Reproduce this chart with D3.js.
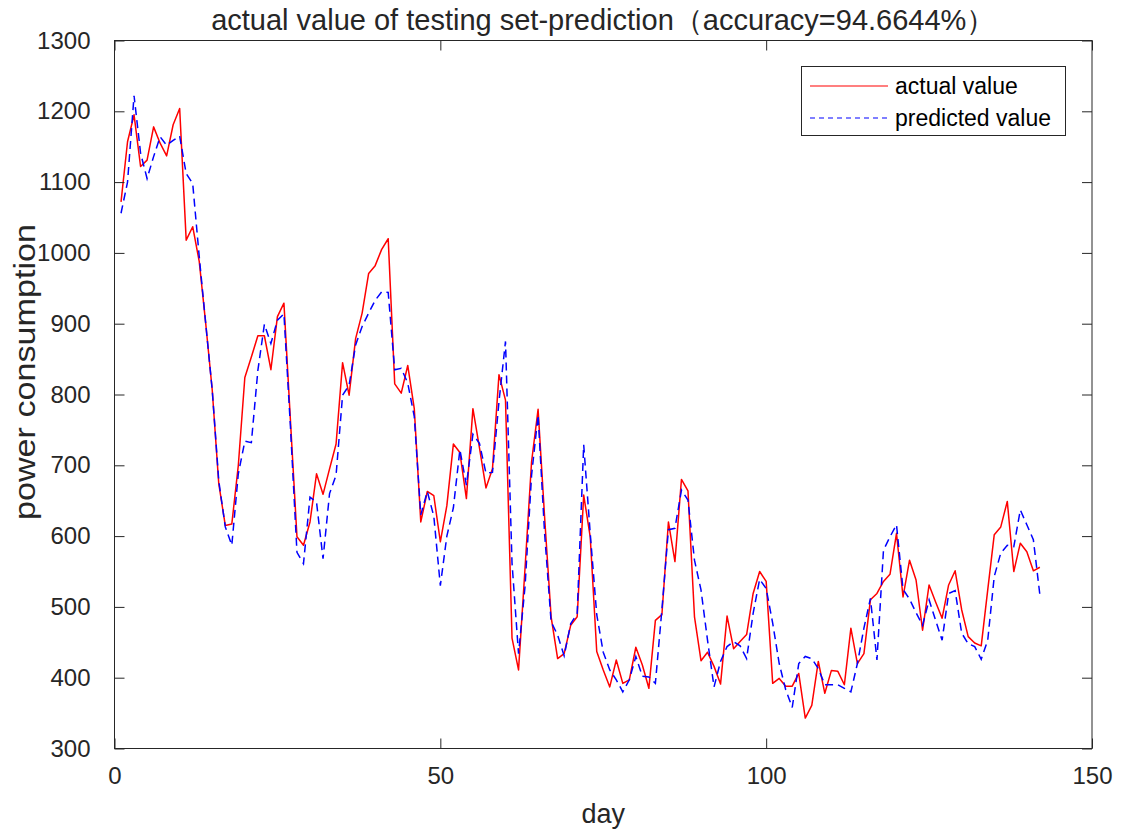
<!DOCTYPE html>
<html>
<head>
<meta charset="utf-8">
<script src="https://cdn.jsdelivr.net/npm/d3@7"></script>
<style>
  html, body { margin: 0; padding: 0; background: #fff; }
  svg { display: block; }
  text { font-family: "Liberation Sans", Arial, Helvetica, sans-serif; fill: #262626; }
</style>
</head>
<body>
<svg id="chart" width="1123" height="834"></svg>
<script>
const titleText = "actual value of testing set-prediction（accuracy=94.6644%）";
const xLabel = "day";
const yLabel = "power consumption";
const xTicks = [0, 50, 100, 150];
const yTicks = [300, 400, 500, 600, 700, 800, 900, 1000, 1100, 1200, 1300];
const seriesNames = ["actual value", "predicted value"];

const actual = [
  1072, 1157, 1195, 1122, 1131, 1178, 1155, 1137, 1181, 1204,
  1018, 1037, 988, 900, 806, 674, 615, 617, 700, 824,
  853, 883, 883, 835, 910, 929, 763, 599, 587, 620,
  688, 659, 695, 730, 845, 799, 879, 915, 971, 982,
  1005, 1020, 815, 802, 841, 780, 620, 663, 657, 592,
  643, 730, 718, 653, 780, 725, 668, 695, 828, 792,
  456, 411, 555, 705, 779, 627, 486, 427, 434, 474,
  486, 658, 599, 437, 411, 387, 425, 392, 397, 443,
  418, 385, 481, 489, 620, 564, 680, 664, 486, 424,
  436, 416, 391, 487, 441, 451, 461, 519, 550, 536,
  392, 399, 388, 388, 406, 343, 361, 423, 378, 410,
  409, 390, 470, 420, 434, 510, 519, 536, 546, 604,
  514, 566, 538, 467, 531, 507, 484, 531, 551, 496,
  458, 449, 445, 524, 602, 613, 649, 550, 590, 578,
  551, 556
];
const predicted = [
  1056, 1100, 1222, 1141, 1105, 1136, 1164, 1152, 1159, 1165,
  1112, 1098, 995, 900, 806, 678, 613, 587, 688, 734,
  732, 834, 899, 872, 905, 914, 754, 577, 561, 655,
  648, 568, 660, 686, 799, 813, 870, 896, 915, 933,
  945, 944, 835, 837, 816, 769, 630, 663, 628, 530,
  600, 640, 722, 672, 744, 731, 689, 690, 790, 875,
  562, 434, 529, 686, 771, 604, 479, 460, 431, 476,
  491, 729, 604, 489, 436, 411, 397, 380, 397, 430,
  402, 401, 392, 496, 609, 611, 665, 651, 566, 524,
  453, 387, 423, 444, 451, 445, 427, 491, 539, 526,
  477, 420, 383, 358, 420, 430, 427, 413, 390, 390,
  390, 385, 380, 420, 470, 512, 425, 580, 599, 616,
  525, 511, 492, 474, 510, 481, 453, 519, 523, 463,
  448, 444, 426, 453, 543, 576, 587, 585, 637, 616,
  595, 517
];

const L = 114.5, R = 1092, T = 40.5, B = 748.5;
const svg = d3.select("#chart");
const x = d3.scaleLinear().domain([0, 150]).range([L, R]);
const y = d3.scaleLinear().domain([300, 1300]).range([B, T]);

const axisColor = "#262626";
const tickLen = 10;

svg.append("rect").attr("x", L).attr("y", T).attr("width", R - L).attr("height", B - T)
  .attr("fill", "#fff");

const clipId = "clipArea";
svg.append("clipPath").attr("id", clipId).append("rect")
  .attr("x", L).attr("y", T).attr("width", R - L).attr("height", B - T);

const line = d3.line().x((d, i) => x(i + 1)).y(d => y(d));
svg.append("path").datum(actual).attr("d", line)
  .attr("fill", "none").attr("stroke", "#ff0000").attr("stroke-width", 1.5)
  .attr("stroke-linejoin", "round").attr("clip-path", `url(#${clipId})`);
svg.append("path").datum(predicted).attr("d", line)
  .attr("fill", "none").attr("stroke", "#0000ff").attr("stroke-width", 1.5)
  .attr("stroke-dasharray", "8,5").attr("clip-path", `url(#${clipId})`);

const fontSize = 24;
const xAxisB = d3.axisBottom(x).tickValues(xTicks).tickSize(-tickLen).tickPadding(18).tickFormat(d3.format("d"));
const xAxisT = d3.axisTop(x).tickValues(xTicks).tickSize(-tickLen).tickFormat("");
const yAxisL = d3.axisLeft(y).tickValues(yTicks).tickSize(-tickLen).tickPadding(24).tickFormat(d3.format("d"));
const yAxisR = d3.axisRight(y).tickValues(yTicks).tickSize(-tickLen).tickFormat("");

function styleAxis(g) {
  g.select(".domain").attr("stroke", axisColor).attr("stroke-width", 1);
  g.selectAll(".tick line").attr("stroke", axisColor).attr("stroke-width", 1);
  g.selectAll(".tick text").attr("fill", axisColor).attr("font-size", fontSize)
    .attr("font-family", '"Liberation Sans", Arial, sans-serif');
}
svg.append("g").attr("transform", `translate(0,${B})`).call(xAxisB).call(styleAxis);
svg.append("g").attr("transform", `translate(0,${T})`).call(xAxisT).call(styleAxis);
svg.append("g").attr("transform", `translate(${L},0)`).call(yAxisL).call(styleAxis);
svg.append("g").attr("transform", `translate(${R},0)`).call(yAxisR).call(styleAxis);
svg.selectAll(".domain").attr("d", null);
svg.append("rect").attr("x", L).attr("y", T).attr("width", R - L).attr("height", B - T)
  .attr("fill", "none").attr("stroke", axisColor).attr("stroke-width", 1);

svg.append("text").attr("x", (L + R) / 2).attr("y", 30).attr("text-anchor", "middle")
  .attr("font-size", 29).text(titleText);
svg.append("text").attr("x", (L + R) / 2).attr("y", 823).attr("text-anchor", "middle")
  .attr("font-size", 27).text(xLabel);
svg.append("text").attr("transform", `translate(35,372) rotate(-90)`)
  .attr("text-anchor", "middle").attr("font-size", 29)
  .attr("textLength", 296).attr("lengthAdjust", "spacingAndGlyphs").text(yLabel);

const lg = svg.append("g");
lg.append("rect").attr("x", 801.5).attr("y", 66.5).attr("width", 264).attr("height", 69)
  .attr("fill", "#fff").attr("stroke", axisColor).attr("stroke-width", 1);
const rows = [{ name: seriesNames[0], color: "#ff0000", dash: null, yy: 86 },
              { name: seriesNames[1], color: "#0000ff", dash: "5,4", yy: 118 }];
rows.forEach(r => {
  lg.append("line").attr("x1", 810).attr("x2", 888).attr("y1", r.yy).attr("y2", r.yy)
    .attr("stroke", r.color).attr("stroke-width", 1.2).attr("stroke-dasharray", r.dash);
  lg.append("text").attr("x", 895).attr("y", r.yy + 8).attr("font-size", 23)
    .style("fill", "#000").text(r.name);
});
</script>
</body>
</html>
